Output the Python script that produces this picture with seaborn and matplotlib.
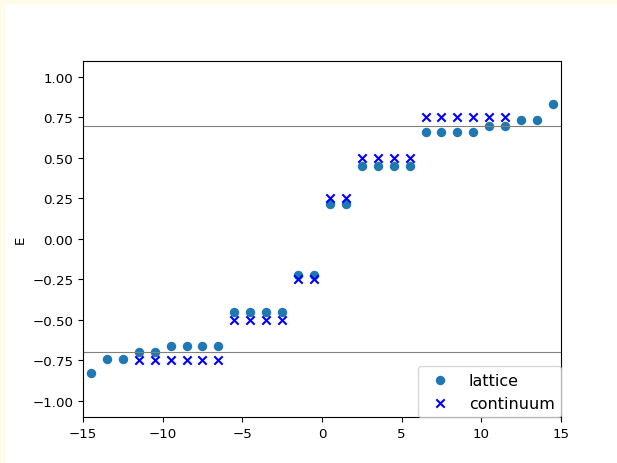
import matplotlib
matplotlib.use("Agg")
import matplotlib.pyplot as plt
import seaborn as sns
import pandas as pd

# lattice eigenvalues
x_lattice = [-14.5, -13.5, -12.5, -11.5, -10.5, -9.5, -8.5, -7.5, -6.5, -5.5,
             -4.5, -3.5, -2.5, -1.5, -0.5, 0.5, 1.5, 2.5, 3.5, 4.5,
             5.5, 6.5, 7.5, 8.5, 9.5, 10.5, 11.5, 12.5, 13.5, 14.5]
E_lattice = [-0.83, -0.74, -0.74, -0.70, -0.70, -0.663, -0.663, -0.663, -0.663, -0.452,
             -0.452, -0.452, -0.452, -0.222, -0.222, 0.218, 0.218, 0.448, 0.448, 0.448,
             0.448, 0.662, 0.662, 0.662, 0.662, 0.695, 0.695, 0.737, 0.737, 0.832]

# continuum eigenvalues
x_cont = [-11.5, -10.5, -9.5, -8.5, -7.5, -6.5, -5.5, -4.5, -3.5, -2.5, -1.5, -0.5,
          0.5, 1.5, 2.5, 3.5, 4.5, 5.5, 6.5, 7.5, 8.5, 9.5, 10.5, 11.5]
E_cont = [-0.75, -0.75, -0.75, -0.75, -0.75, -0.75, -0.5, -0.5, -0.5, -0.5, -0.25, -0.25,
          0.25, 0.25, 0.5, 0.5, 0.5, 0.5, 0.75, 0.75, 0.75, 0.75, 0.75, 0.75]

gap = [-0.7, 0.7]

df_lat = pd.DataFrame({"x": x_lattice, "E": E_lattice})
df_con = pd.DataFrame({"x": x_cont, "E": E_cont})

fig = plt.figure(figsize=(6.17, 4.64), dpi=100, facecolor="#fefbe9")
# white figure area, offset like the screenshot
fig.patches.append(plt.Rectangle((5 / 617, 0), 1, 1 - 5 / 464, transform=fig.transFigure,
                                 facecolor="white", edgecolor="none", zorder=-1))
ax = fig.add_axes([0.1345, 0.099, 0.7747, 0.768])

sns.scatterplot(data=df_lat, x="x", y="E", ax=ax, color="#1f77b4", s=46,
                linewidth=0, label="lattice")
sns.scatterplot(data=df_con, x="x", y="E", ax=ax, color="blue", marker="x", s=36,
                linewidth=1.5, label="continuum")
for g in gap:
    ax.axhline(g, color="gray", lw=0.8)

ax.set_xlim(-15, 15)
ax.set_ylim(-1.1, 1.1)
ax.set_xlabel("")
ax.set_ylabel("E", fontsize=9.6)
ax.tick_params(labelsize=9.6)
ax.legend(loc="lower right", fontsize=11.5, borderaxespad=0)

fig.savefig("out.png", dpi=100, facecolor=fig.get_facecolor())
